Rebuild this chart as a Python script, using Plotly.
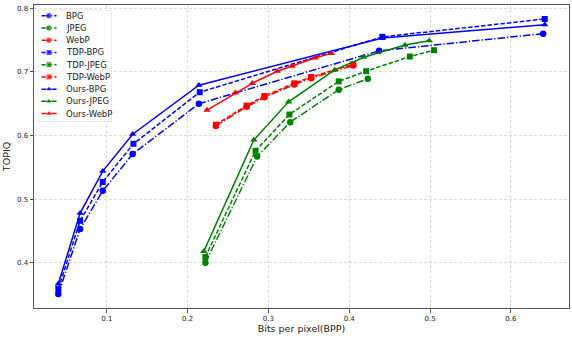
import plotly.graph_objects as go

# values
bpg_x = [0.040, 0.067, 0.095, 0.132, 0.214, 0.437, 0.640]
bpg_y = [0.351, 0.453, 0.513, 0.571, 0.650, 0.733, 0.760]
tdp_bpg_x = [0.040, 0.067, 0.095, 0.133, 0.215, 0.441, 0.642]
tdp_bpg_y = [0.359, 0.466, 0.527, 0.587, 0.668, 0.755, 0.783]
ours_bpg_x = [0.040, 0.067, 0.095, 0.132, 0.214, 0.441, 0.642]
ours_bpg_y = [0.367, 0.478, 0.544, 0.602, 0.679, 0.753, 0.774]

jpeg_x = [0.222, 0.286, 0.327, 0.387, 0.423]
jpeg_y = [0.400, 0.567, 0.621, 0.672, 0.689]
tdp_jpeg_x = [0.222, 0.284, 0.326, 0.387, 0.421, 0.475, 0.505]
tdp_jpeg_y = [0.409, 0.576, 0.633, 0.685, 0.701, 0.724, 0.734]
ours_jpeg_x = [0.220, 0.282, 0.325, 0.382, 0.418, 0.469, 0.499]
ours_jpeg_y = [0.418, 0.593, 0.653, 0.703, 0.723, 0.742, 0.749]

webp_x = [0.235, 0.273, 0.295, 0.332, 0.353, 0.405]
webp_y = [0.615, 0.645, 0.660, 0.680, 0.690, 0.710]
tdp_webp_x = [0.235, 0.273, 0.295, 0.332, 0.353, 0.405]
tdp_webp_y = [0.617, 0.647, 0.662, 0.682, 0.692, 0.712]
ours_webp_x = [0.224, 0.259, 0.280, 0.311, 0.329, 0.358, 0.378]
ours_webp_y = [0.640, 0.667, 0.682, 0.701, 0.709, 0.722, 0.729]

x_ticks = [0.1, 0.2, 0.3, 0.4, 0.5, 0.6]
y_ticks = [0.4, 0.5, 0.6, 0.7, 0.8]

BLUE, GREEN, RED = "#0000ff", "#008000", "#ff0000"
DASH = "4.5px,2px"
DASHDOT = "7.5px,2px,1.3px,2px"

series = [
    ("BPG", bpg_x, bpg_y, BLUE, DASHDOT, "circle", 6.5),
    ("JPEG", jpeg_x, jpeg_y, GREEN, DASHDOT, "circle", 6.5),
    ("WebP", webp_x, webp_y, RED, DASHDOT, "circle", 6.5),
    ("TDP-BPG", tdp_bpg_x, tdp_bpg_y, BLUE, DASH, "square", 6),
    ("TDP-JPEG", tdp_jpeg_x, tdp_jpeg_y, GREEN, DASH, "square", 6),
    ("TDP-WebP", tdp_webp_x, tdp_webp_y, RED, DASH, "square", 6),
    ("Ours-BPG", ours_bpg_x, ours_bpg_y, BLUE, "solid", "triangle-up", 6.5),
    ("Ours-JPEG", ours_jpeg_x, ours_jpeg_y, GREEN, "solid", "triangle-up", 6.5),
    ("Ours-WebP", ours_webp_x, ours_webp_y, RED, "solid", "triangle-up", 6.5),
]

fig = go.Figure()
for name, xs, ys, color, dash, symbol, size in series:
    fig.add_trace(
        go.Scatter(
            x=xs,
            y=ys,
            mode="lines+markers",
            name=name,
            line=dict(color=color, width=1.5, dash=dash),
            marker=dict(color=color, symbol=symbol, size=size),
            showlegend=False,
        )
    )

# legend drawn in a small inset axis, matplotlib style (one row per series)
for i, (name, xs, ys, color, dash, symbol, size) in enumerate(series):
    fig.add_trace(
        go.Scatter(
            x=[0.05, 0.152, 0.254],
            y=[i, i, i],
            mode="lines+markers",
            xaxis="x2",
            yaxis="y2",
            line=dict(color=color, width=1.5, dash=dash),
            marker=dict(color=color, symbol=symbol, size=[0, size, 0]),
            showlegend=False,
            hoverinfo="skip",
        )
    )
    fig.add_annotation(
        x=0.36, y=i, xref="x2", yref="y2", text=name, showarrow=False,
        xanchor="left", yanchor="middle", font=dict(size=8.5, color="#222"),
    )

fig.add_shape(
    type="rect", xref="x2", yref="y2", x0=0, x1=1, y0=8.69, y1=-0.49,
    fillcolor="rgba(255,255,255,0.85)", line=dict(color="#cccccc", width=1),
    layer="below",
)

axis_common = dict(
    automargin=False,
    showgrid=True,
    gridcolor="#dcdcdc",
    gridwidth=0.8,
    griddash="3px,2px",
    showline=True,
    mirror=True,
    linecolor="#555",
    linewidth=1,
    ticks="outside",
    ticklen=3.5,
    tickcolor="#555",
    tickfont=dict(size=7, color="#222"),
    zeroline=False,
)

fig.update_layout(
    width=572,
    height=338,
    margin=dict(l=34, r=3, t=5, b=30, autoexpand=False),
    paper_bgcolor="white",
    plot_bgcolor="white",
    font=dict(family="DejaVu Sans", color="#222"),
    xaxis=dict(
        range=[0.0099, 0.672],
        tickvals=x_ticks,
        ticktext=[f"{v:.1f}" for v in x_ticks],
        title=dict(text="Bits per pixel(BPP)", font=dict(size=9.5), standoff=3),
        **axis_common,
    ),
    yaxis=dict(
        range=[0.329, 0.805],
        tickvals=y_ticks,
        ticktext=[f"{v:.1f}" for v in y_ticks],
        title=dict(text="TOPIQ", font=dict(size=9.5), standoff=4),
        **axis_common,
    ),
    xaxis2=dict(domain=[0.0071, 0.1447], range=[0, 1], anchor="y2", visible=False),
    yaxis2=dict(domain=[0.6138, 0.9842], range=[8.69, -0.49], anchor="x2", visible=False),
)

# the page's default body margin would push the 572x338 figure out of the window
fig.write_html(
    "out.html",
    config={"displayModeBar": False},
    post_script="document.body.style.margin = '0';",
)
